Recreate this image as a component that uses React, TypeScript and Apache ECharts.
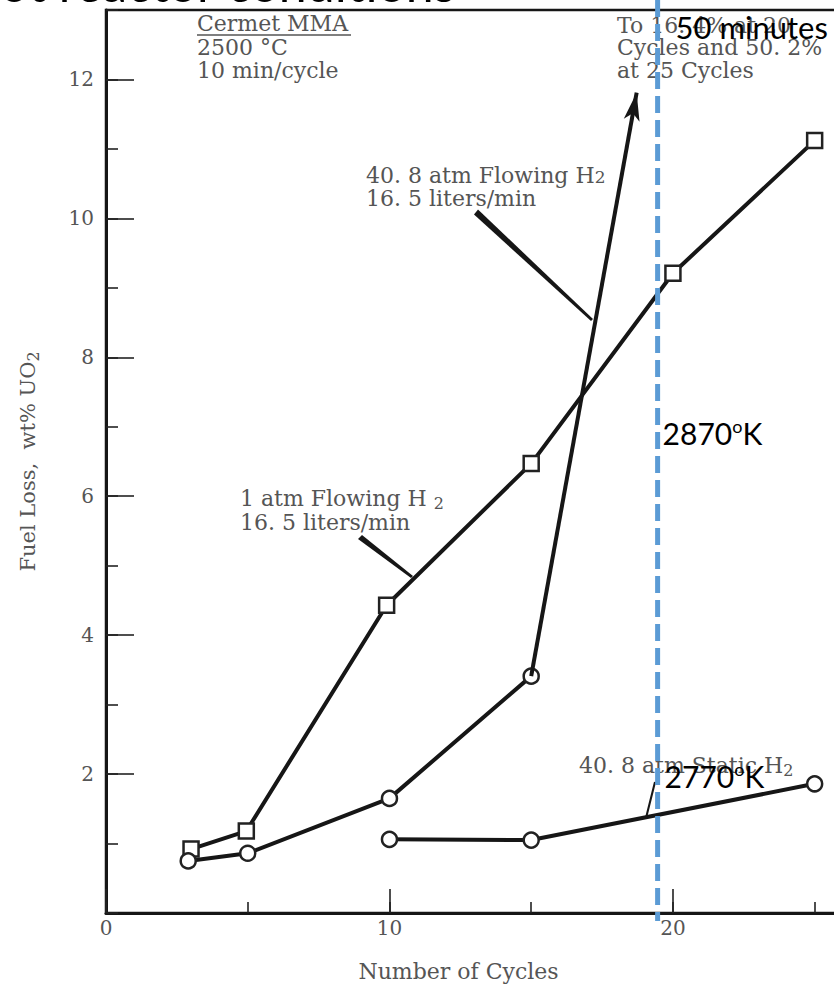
import React, { useEffect, useRef } from 'react';
import * as echarts from 'echarts';

// ---- data ----
const xTickLabels = ['0', '10', '20'];
const yTickLabels = ['2', '4', '6', '8', '10', '12'];

// 1 atm Flowing H2 (squares)
const sqCycles = [3, 4.95, 9.9, 15, 20, 25];
const sqLoss = [0.92, 1.18, 4.43, 6.47, 9.21, 11.12];

// 40.8 atm Flowing H2 (circles)
const ciCycles = [2.9, 5, 10, 15];
const ciLoss = [0.75, 0.86, 1.65, 3.41];
const arrowFrom = [15, 3.41];
const arrowTo = [18.72, 11.81];

// 40.8 atm Static H2 (circles)
const stCycles = [10, 15, 25];
const stLoss = [1.06, 1.05, 1.86];

// overlay marker (blue dashed line)
const markerCycle = 19.46;

const SERIF = 'DejaVu Serif';
const SANS = 'Lato';
const GRAY = '#555';
const INK = '#161616';

function zip(xs: number[], ys: number[]) {
  return xs.map((x, i) => [x, ys[i]]);
}

export default function App() {
  const ref = useRef<HTMLDivElement>(null);

  useEffect(() => {
    if (!ref.current) return;
    const chart = echarts.init(ref.current, null, { renderer: 'svg' });

    const labelStyle = { color: GRAY, fontFamily: SERIF, fontSize: 20 };
    const tickLine = { color: '#222', width: 1.6 };

    const option: any = {
      animation: false,
      backgroundColor: '#ffffff',
      grid: {
        left: 106,
        top: 10,
        width: 737,
        bottom: 71,
        outerBoundsMode: 'none',
        containLabel: false,
        show: true,
        borderColor: INK,
        borderWidth: 2.5,
      },
      xAxis: [
        {
          type: 'value',
          min: 0,
          max: 26,
          interval: 10,
          axisLine: { lineStyle: { color: INK, width: 3 } },
          axisTick: { inside: true, length: 24, lineStyle: tickLine },
          splitLine: { show: false },
          axisLabel: {
            ...labelStyle,
            margin: 5,
            showMaxLabel: false,
            formatter: (v: number) => (xTickLabels.includes(String(v)) ? String(v) : ''),
          },
          name: 'Number of Cycles',
          nameLocation: 'middle',
          nameGap: 47,
          nameTextStyle: { color: GRAY, fontFamily: SERIF, fontSize: 22, padding: [0, 32, 0, 0] },
        },
        {
          type: 'value',
          min: 0,
          max: 26,
          interval: 5,
          position: 'bottom',
          axisLine: { show: false },
          axisTick: { inside: true, length: 11, lineStyle: tickLine },
          axisLabel: { show: false },
          splitLine: { show: false },
        },
      ],
      yAxis: [
        {
          type: 'value',
          min: 0,
          max: 13,
          interval: 2,
          axisLine: { lineStyle: { color: INK, width: 3 } },
          axisTick: { inside: true, length: 28, lineStyle: tickLine },
          splitLine: { show: false },
          axisLabel: {
            ...labelStyle,
            margin: 12,
            showMinLabel: false,
            showMaxLabel: false,
            formatter: (v: number) => (yTickLabels.includes(String(v)) ? String(v) : ''),
          },
          name: 'Fuel Loss,  wt% UO{s|2}',
          nameLocation: 'middle',
          nameRotate: 90,
          nameGap: 65,
          nameTextStyle: {
            color: GRAY,
            fontFamily: SERIF,
            fontSize: 21,
            rich: { s: { fontSize: 16, color: GRAY, fontFamily: SERIF, padding: [11, 0, 0, 0] } },
          },
        },
        {
          type: 'value',
          min: 0,
          max: 13,
          interval: 1,
          position: 'left',
          axisLine: { show: false },
          axisTick: { inside: true, length: 12, lineStyle: tickLine },
          axisLabel: { show: false },
          splitLine: { show: false },
        },
      ],
      series: [
        {
          name: '1 atm Flowing H2',
          type: 'line',
          data: zip(sqCycles, sqLoss),
          symbol: 'rect',
          symbolSize: 15,
          lineStyle: { color: INK, width: 4 },
          itemStyle: { color: '#fff', borderColor: '#222', borderWidth: 2.5 },
          z: 3,
        },
        {
          name: '40.8 atm Flowing H2',
          type: 'line',
          data: zip(ciCycles, ciLoss),
          symbol: 'circle',
          symbolSize: 15,
          lineStyle: { color: INK, width: 4 },
          itemStyle: { color: '#fff', borderColor: '#222', borderWidth: 2.5 },
          z: 3,
          markLine: {
            silent: true,
            animation: false,
            symbol: ['none', 'arrow'],
            symbolSize: [12, 28],
            label: { show: false },
            lineStyle: { color: INK, width: 4, type: 'solid' },
            data: [[{ coord: arrowFrom }, { coord: arrowTo }]],
          },
        },
        {
          name: '40.8 atm Static H2',
          type: 'line',
          data: zip(stCycles, stLoss),
          symbol: 'circle',
          symbolSize: 15,
          lineStyle: { color: INK, width: 4 },
          itemStyle: { color: '#fff', borderColor: '#222', borderWidth: 2.5 },
          z: 3,
        },
      ],
    };

    chart.setOption(option);

    const lx = chart.convertToPixel({ xAxisIndex: 0 }, markerCycle) as number;

    const serifText = (text: string, x: number, y: number) => ({
      type: 'text',
      x,
      y,
      z: 50,
      style: {
        text,
        fill: GRAY,
        fontFamily: SERIF,
        fontSize: 22,
        verticalAlign: 'middle',
        align: 'left',
        rich: {
          s: { fontSize: 16, fill: GRAY, fontFamily: SERIF, padding: [10, 0, 0, 0] },
          s2: { fontSize: 17, fill: GRAY, fontFamily: SERIF, padding: [4, 0, 0, 0] },
        },
      },
    });

    const sansText = (text: string, x: number, y: number, size: number) => ({
      type: 'text',
      x,
      y,
      z: 60,
      style: {
        text,
        fill: '#000',
        fontFamily: SANS,
        fontSize: size,
        verticalAlign: 'middle',
        align: 'left',
        rich: {
          sup: { fontSize: 18, fill: '#000', fontFamily: SANS, padding: [0, 0, 14, 0] },
        },
      },
    });

    chart.setOption({
      graphic: [
        // top title fragment (cut off at the top of the picture)
        {
          type: 'text',
          x: 0,
          y: -17,
          z: 60,
          style: { text: 'ot reactor conditions', fill: '#000', fontFamily: SANS, fontSize: 50, verticalAlign: 'middle' },
        },
        // Cermet MMA block
        serifText('Cermet MMA', 197, 23),
        { type: 'line', z: 50, shape: { x1: 197, y1: 35, x2: 351, y2: 35 }, style: { stroke: GRAY, lineWidth: 1.5 } },
        serifText('2500 °C', 197, 47),
        serifText('10 min/cycle', 197, 70),
        // top-right note
        serifText('To 16. 4% at 20', 617, 25),
        serifText('Cycles and 50. 2%', 617, 47),
        serifText('at 25 Cycles', 617, 70),
        // 40.8 atm flowing
        serifText('40. 8 atm Flowing H{s2|2}', 366, 175),
        serifText('16. 5 liters/min', 366, 198),
        { type: 'polygon', z: 40, shape: { points: [[474, 214.5], [478, 209.5], [593, 319], [591, 321]] }, style: { fill: INK } },
        // 1 atm flowing
        serifText('1 atm Flowing H {s|2}', 240, 498),
        serifText('16. 5 liters/min', 240, 522),
        { type: 'polygon', z: 40, shape: { points: [[358, 539], [362, 535], [413, 576], [411, 578]] }, style: { fill: INK } },
        // static
        serifText('40. 8 atm Static H{s|2}', 579, 765),
        { type: 'line', z: 40, shape: { x1: 655, y1: 782, x2: 646, y2: 818 }, style: { stroke: INK, lineWidth: 2 } },
        // blue dashed marker
        {
          type: 'line',
          z: 55,
          shape: { x1: lx, y1: 0, x2: lx, y2: 921 },
          style: { stroke: '#5B9BD5', lineWidth: 5, lineDash: [17, 7] },
        },
        sansText('50 minutes', lx + 18, 27, 31),
        sansText('2870{sup|o}K', lx + 5, 433, 30),
        sansText('2770{sup|o}K', lx + 7, 776, 30),
      ],
    });

    return () => chart.dispose();
  }, []);

  return (
    <div
      ref={ref}
      style={{ position: 'absolute', left: 0, top: 0, width: 834, height: 984, background: '#fff' }}
    />
  );
}
